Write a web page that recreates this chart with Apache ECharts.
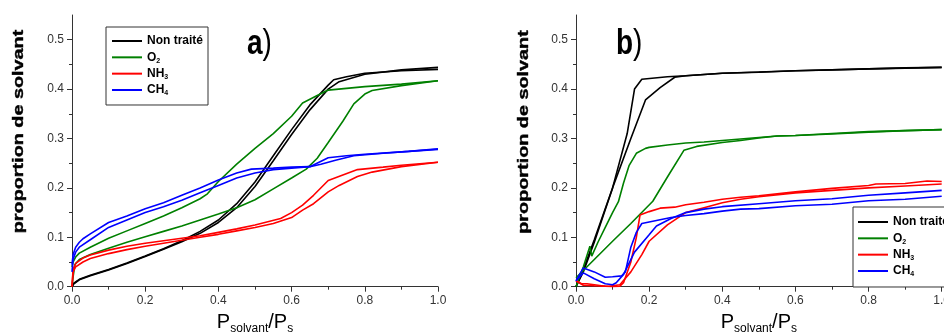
<!DOCTYPE html>
<html>
<head>
<meta charset="utf-8">
<script src="https://cdn.jsdelivr.net/npm/echarts@6/dist/echarts.min.js"></script>
<style>html,body{margin:0;padding:0;background:#fff}#c{width:944px;height:333px}</style>
</head>
<body>
<div id="c"></div>
<script>
// ---- data: [P/Ps, proportion] ----
const legendNames = ['Non traité', 'O2', 'NH3', 'CH4'];
const xTicks = [0, 0.2, 0.4, 0.6, 0.8, 1.0];
const yTicks = [0, 0.1, 0.2, 0.3, 0.4, 0.5];
const yMinorTicks = [0.05, 0.15, 0.25, 0.35, 0.45];

// panel a)
const a_nonTraite_1 = [[0,0],[0.005,0.007],[0.02,0.015],[0.05,0.023],[0.1,0.035],[0.15,0.048],[0.2,0.062],[0.25,0.077],[0.3,0.093],[0.35,0.112],[0.4,0.135],[0.45,0.168],[0.5,0.212],[0.55,0.265],[0.6,0.318],[0.65,0.368],[0.7,0.408],[0.715,0.419],[0.75,0.425],[0.8,0.432],[0.9,0.437],[1.0,0.44]];
const a_nonTraite_2 = [[0,0],[0.005,0.006],[0.02,0.014],[0.05,0.022],[0.1,0.034],[0.15,0.047],[0.2,0.061],[0.25,0.076],[0.3,0.091],[0.35,0.108],[0.4,0.13],[0.45,0.16],[0.5,0.203],[0.55,0.255],[0.6,0.308],[0.65,0.358],[0.7,0.4],[0.73,0.415],[0.8,0.43],[0.9,0.439],[1.0,0.444]];
const a_O2_1 = [[0,0.04],[0.003,0.05],[0.01,0.06],[0.02,0.068],[0.05,0.08],[0.1,0.098],[0.15,0.113],[0.2,0.128],[0.25,0.143],[0.3,0.16],[0.35,0.178],[0.37,0.188],[0.4,0.213],[0.45,0.248],[0.5,0.28],[0.55,0.31],[0.6,0.345],[0.63,0.372],[0.67,0.387],[0.7,0.398],[0.8,0.405],[0.9,0.41],[1.0,0.417]];
const a_O2_2 = [[0,0],[0.003,0.02],[0.008,0.045],[0.02,0.055],[0.05,0.065],[0.1,0.078],[0.15,0.09],[0.2,0.101],[0.25,0.112],[0.3,0.123],[0.35,0.135],[0.4,0.147],[0.45,0.16],[0.5,0.176],[0.55,0.198],[0.6,0.22],[0.64,0.238],[0.67,0.26],[0.7,0.292],[0.74,0.335],[0.77,0.37],[0.8,0.39],[0.82,0.397],[0.9,0.407],[1.0,0.417]];
const a_NH3_1 = [[0,0],[0.003,0.035],[0.01,0.047],[0.03,0.058],[0.05,0.064],[0.1,0.074],[0.15,0.082],[0.2,0.088],[0.25,0.093],[0.3,0.098],[0.35,0.103],[0.4,0.11],[0.45,0.117],[0.5,0.125],[0.57,0.138],[0.6,0.15],[0.63,0.165],[0.66,0.185],[0.7,0.215],[0.74,0.226],[0.78,0.237],[0.85,0.242],[0.9,0.246],[1.0,0.252]];
const a_NH3_2 = [[0,0],[0.003,0.03],[0.01,0.04],[0.03,0.05],[0.05,0.057],[0.1,0.067],[0.15,0.075],[0.2,0.082],[0.25,0.088],[0.3,0.094],[0.35,0.1],[0.4,0.106],[0.45,0.113],[0.5,0.12],[0.55,0.128],[0.6,0.14],[0.63,0.155],[0.66,0.168],[0.7,0.192],[0.73,0.205],[0.78,0.223],[0.82,0.232],[0.9,0.243],[1.0,0.252]];
const a_CH4_1 = [[0,0.045],[0.003,0.065],[0.01,0.08],[0.02,0.09],[0.03,0.097],[0.05,0.107],[0.1,0.13],[0.15,0.143],[0.2,0.158],[0.25,0.17],[0.3,0.185],[0.35,0.2],[0.4,0.216],[0.45,0.23],[0.49,0.238],[0.55,0.24],[0.6,0.242],[0.65,0.243],[0.7,0.261],[0.75,0.265],[0.8,0.268],[0.9,0.273],[1.0,0.278]];
const a_CH4_2 = [[0,0.03],[0.003,0.055],[0.01,0.07],[0.02,0.08],[0.05,0.095],[0.1,0.12],[0.15,0.135],[0.2,0.15],[0.25,0.162],[0.3,0.175],[0.35,0.19],[0.4,0.205],[0.45,0.22],[0.5,0.23],[0.55,0.237],[0.6,0.24],[0.65,0.243],[0.68,0.248],[0.72,0.256],[0.77,0.265],[0.85,0.27],[0.92,0.274],[1.0,0.279]];

// panel b)
const b_nonTraite_1 = [[0,0],[0.02,0.03],[0.05,0.09],[0.1,0.2],[0.14,0.31],[0.16,0.4],[0.18,0.42],[0.25,0.425],[0.3,0.427],[0.4,0.432],[0.5,0.434],[0.6,0.437],[0.7,0.439],[0.8,0.441],[0.9,0.443],[1.0,0.444]];
const b_nonTraite_2 = [[0,0],[0.02,0.035],[0.05,0.095],[0.1,0.2],[0.15,0.3],[0.19,0.378],[0.23,0.403],[0.27,0.424],[0.3,0.427],[0.4,0.432],[0.6,0.437],[0.8,0.441],[1.0,0.444]];
const b_O2_1 = [[0,0],[0.01,0.02],[0.02,0.04],[0.038,0.082],[0.043,0.062],[0.06,0.09],[0.08,0.12],[0.1,0.15],[0.116,0.172],[0.13,0.21],[0.145,0.245],[0.165,0.27],[0.19,0.28],[0.2,0.282],[0.25,0.287],[0.3,0.291],[0.35,0.293],[0.4,0.296],[0.5,0.302],[0.55,0.305],[0.6,0.306],[0.7,0.309],[0.8,0.313],[0.9,0.316],[1.0,0.318]];
const b_O2_2 = [[0,0.018],[0.05,0.055],[0.1,0.092],[0.15,0.128],[0.21,0.173],[0.25,0.222],[0.295,0.276],[0.33,0.284],[0.4,0.292],[0.45,0.296],[0.5,0.301],[0.55,0.305],[0.6,0.306],[0.7,0.31],[0.8,0.314],[0.9,0.316],[1.0,0.318]];
const b_NH3_1 = [[0,0.012],[0.015,0.006],[0.03,0.006],[0.05,0.004],[0.08,0.001],[0.1,0],[0.12,0.001],[0.13,0.008],[0.15,0.05],[0.165,0.1],[0.175,0.145],[0.2,0.152],[0.23,0.159],[0.27,0.161],[0.3,0.166],[0.35,0.171],[0.4,0.177],[0.45,0.181],[0.5,0.184],[0.6,0.192],[0.7,0.199],[0.8,0.205],[0.82,0.208],[0.9,0.209],[0.96,0.214],[1.0,0.213]];
const b_NH3_2 = [[0,0.012],[0.02,0.003],[0.05,0.002],[0.09,0.001],[0.12,0.004],[0.15,0.03],[0.18,0.065],[0.2,0.092],[0.25,0.125],[0.3,0.15],[0.35,0.16],[0.4,0.17],[0.45,0.177],[0.5,0.182],[0.6,0.19],[0.7,0.195],[0.8,0.2],[0.9,0.204],[1.0,0.208]];
const b_CH4_1 = [[0,0.012],[0.02,0.038],[0.05,0.03],[0.08,0.019],[0.1,0.02],[0.125,0.022],[0.135,0.03],[0.15,0.08],[0.165,0.11],[0.18,0.128],[0.22,0.134],[0.26,0.14],[0.3,0.144],[0.35,0.148],[0.4,0.153],[0.45,0.157],[0.5,0.158],[0.6,0.164],[0.7,0.167],[0.8,0.174],[0.9,0.177],[1.0,0.183]];
const b_CH4_2 = [[0,0.012],[0.02,0.028],[0.05,0.016],[0.08,0.006],[0.1,0.004],[0.11,0.008],[0.13,0.025],[0.16,0.07],[0.2,0.105],[0.22,0.123],[0.26,0.138],[0.3,0.15],[0.35,0.157],[0.4,0.162],[0.5,0.168],[0.6,0.174],[0.7,0.178],[0.8,0.185],[0.9,0.19],[1.0,0.195]];

// ---- chart ----
const FF = '"Liberation Sans", Arial, sans-serif';
const colors = {'Non traité':'#000000','O2':'#008000','NH3':'#ff0000','CH4':'#0000ff'};
const AX = '#333';

function line(name, data, gi) {
  return {
    type:'line', name:name, data:data, xAxisIndex:gi, yAxisIndex:gi*2,
    showSymbol:false, symbol:'none', smooth:false, silent:true,
    itemStyle:{color:colors[name]},
    lineStyle:{color:colors[name], width:1.6}
  };
}
function xAx(gi) {
  return {
    type:'value', gridIndex:gi, min:0, max:1, interval:0.2,
    axisLine:{show:true, lineStyle:{color:AX, width:1}},
    axisTick:{show:true, length:5, lineStyle:{color:AX}},
    minorTick:{show:true, splitNumber:2, length:3, lineStyle:{color:AX}},
    splitLine:{show:false},
    axisLabel:{color:'#333', fontSize:12, fontFamily:FF, margin:8, formatter:v=>v.toFixed(1)},
    name:'{P|P}{s|solvant}{P|/P}{s|s}', nameLocation:'middle', nameGap:24,
    nameTextStyle:{color:'#000', fontFamily:FF,
      rich:{P:{fontSize:20, fontFamily:FF, color:'#000', lineHeight:24},
            s:{fontSize:12, fontFamily:FF, color:'#000', lineHeight:10, verticalAlign:'bottom'}}}
  };
}
function yMain(gi) {
  return {
    type:'value', gridIndex:gi, min:0, max:0.55, interval:0.1, position:'left',
    axisLine:{show:true, lineStyle:{color:AX, width:1}},
    axisTick:{show:true, length:5, customValues:yTicks, lineStyle:{color:AX}},
    splitLine:{show:false},
    axisLabel:{color:'#333', fontSize:12, fontFamily:FF, margin:8, customValues:yTicks, formatter:v=>v.toFixed(1)}
  };
}
function yMinor(gi) {
  return {
    type:'value', gridIndex:gi, min:0, max:0.55, interval:0.05, position:'left', offset:0,
    axisLine:{show:false},
    axisTick:{show:true, length:3, customValues:yMinorTicks, lineStyle:{color:AX}},
    splitLine:{show:false},
    axisLabel:{show:false}
  };
}
function legend(left, top, padding) {
  return {
    orient:'vertical', left:left, top:top, padding:padding,
    itemWidth:30, itemHeight:2, itemGap:2.33, icon:'rect',
    borderColor:'#333', borderWidth:1, backgroundColor:'#fff',
    selectedMode:false, data:legendNames,
    formatter:function(n){
      if (n==='O2') return 'O{s|2}';
      if (n==='NH3') return 'NH{s|3}';
      if (n==='CH4') return 'CH{s|4}';
      return n;
    },
    textStyle:{fontSize:12, fontWeight:'bold', color:'#000', fontFamily:FF, lineHeight:14,
      rich:{s:{fontSize:7, fontWeight:'bold', color:'#000', fontFamily:FF, lineHeight:7, verticalAlign:'bottom'}}}
  };
}
function yTitle(x, y) {
  return {type:'text', x:x, y:y, rotation:Math.PI/2, scaleX:1.32, silent:true,
    style:{text:'proportion de solvant', fontSize:15, fontWeight:'bold', fontFamily:FF, fill:'#000',
      stroke:'#000', lineWidth:0.4, align:'center', verticalAlign:'middle'}};
}
function panelLabel(x, y, letter) {
  return {type:'text', x:x, y:y, scaleY:1.22, silent:true,
    style:{text:'{b|'+letter+'}{n|)}', align:'left', verticalAlign:'middle', fill:'#000',
      rich:{b:{fontSize:28, fontWeight:'bold', fontFamily:FF, fill:'#000'},
            n:{fontSize:28, fontWeight:'normal', fontFamily:FF, fill:'#000'}}}};
}

const chart = echarts.init(document.getElementById('c'), null, {renderer:'canvas'});
chart.setOption({
  animation:false,
  backgroundColor:'#fff',
  grid:[
    {left:72, width:366, top:15, bottom:46.3, containLabel:false, outerBoundsMode:'none'},
    {left:576, width:365.7, top:15, bottom:46.3, containLabel:false, outerBoundsMode:'none'}
  ],
  xAxis:[xAx(0), xAx(1)],
  yAxis:[yMain(0), yMinor(0), yMain(1), yMinor(1)],
  legend:[legend(106, 27, [7,5,8,6]), legend(853, 207, [8,5,9,5])],
  graphic:[yTitle(19, 131.5), yTitle(523.5, 132), panelLabel(247, 45, 'a'), panelLabel(616, 45, 'b')],
  series:[
    line('Non traité', a_nonTraite_1, 0), line('Non traité', a_nonTraite_2, 0),
    line('O2', a_O2_1, 0), line('O2', a_O2_2, 0),
    line('NH3', a_NH3_1, 0), line('NH3', a_NH3_2, 0),
    line('CH4', a_CH4_1, 0), line('CH4', a_CH4_2, 0),
    line('Non traité', b_nonTraite_1, 1), line('Non traité', b_nonTraite_2, 1),
    line('O2', b_O2_1, 1), line('O2', b_O2_2, 1),
    line('NH3', b_NH3_1, 1), line('NH3', b_NH3_2, 1),
    line('CH4', b_CH4_1, 1), line('CH4', b_CH4_2, 1)
  ]
});
</script>
</body>
</html>
